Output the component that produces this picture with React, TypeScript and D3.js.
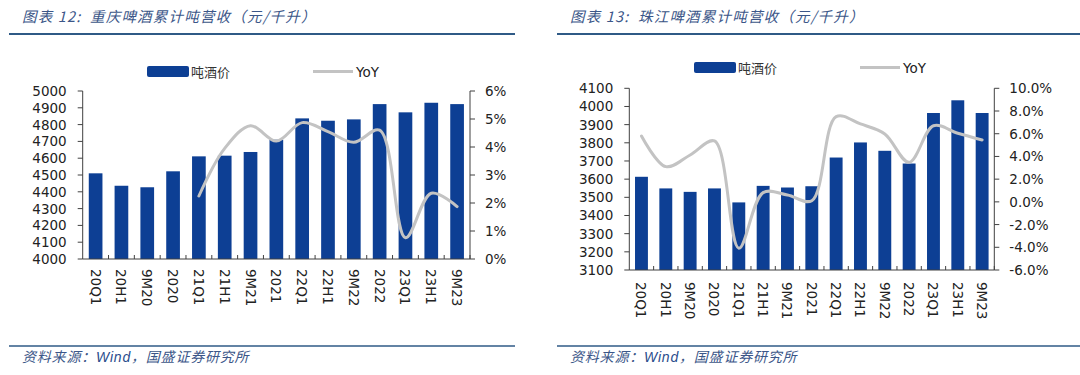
import React from "react";
import * as d3 from "d3";

const categories = ["20Q1","20H1","9M20","2020","21Q1","21H1","9M21","2021","22Q1","22H1","9M22","2022","23Q1","23H1","9M23"];

// Chart 12: Chongqing Beer
const cqPrice = [4510,4436,4427,4522,4611,4615,4637,4710,4837,4823,4831,4922,4873,4930,4922];
const cqYoY: (number|null)[] = [null,null,null,null,2.25,3.95,4.76,4.21,4.87,4.55,4.17,4.6,0.76,2.35,1.87];
const cqLeftTicks = [4000,4100,4200,4300,4400,4500,4600,4700,4800,4900,5000];
const cqRightTicks = [0,1,2,3,4,5,6];

// Chart 13: Zhujiang Beer
const zjPrice = [3613,3549,3530,3549,3472,3563,3554,3561,3719,3802,3756,3686,3964,4034,3964];
const zjYoY: (number|null)[] = [5.8,3.1,4.13,5.36,-4.08,0.81,0.6,0.1,7.5,6.86,5.98,3.48,6.7,6.04,5.45];
const zjLeftTicks = [3100,3200,3300,3400,3500,3600,3700,3800,3900,4000,4100];
const zjRightTicks = [-6,-4,-2,0,2,4,6,8,10];

const BAR = "#0d3f94";
const LINE = "#c3c3c3";
const AXIS = "#404040";
const TITLE_C = "#3b5688";
const RULE_C = "#2f5a86";
const FONT = "'DejaVu Sans', Verdana, sans-serif";
const CJK = "'Noto Sans CJK SC', sans-serif";

type PanelProps = {
  titleNo: string; title: string;
  x0: number; x1: number; yTop: number; yBot: number;
  price: number[]; yoy: (number|null)[];
  leftTicks: number[]; rightTicks: number[];
  rightFmt: (v: number) => string;
  legendRectX: number; legendY: number; legendLineX: number;
  titleX: number; ruleX0: number; ruleX1: number;
  labelOffset: number;
};

function Panel(p: PanelProps) {
  const x = d3.scaleBand<string>().domain(categories).range([p.x0, p.x1]).paddingInner(0.47).paddingOuter(0.235);
  const bandStep = (p.x1 - p.x0) / categories.length;
  const yL = d3.scaleLinear().domain([p.leftTicks[0], p.leftTicks[p.leftTicks.length - 1]]).range([p.yBot, p.yTop]);
  const yR = d3.scaleLinear().domain([p.rightTicks[0], p.rightTicks[p.rightTicks.length - 1]]).range([p.yBot, p.yTop]);
  const cx = (c: string) => (x(c) as number) + x.bandwidth() / 2;
  const pts = categories.map((c, i) => ({ c, v: p.yoy[i] })).filter(d => d.v !== null) as { c: string; v: number }[];
  const line = d3.line<{ c: string; v: number }>().x(d => cx(d.c)).y(d => yR(d.v)).curve(d3.curveCatmullRom.alpha(0.5));
  return (
    <g>
      <text x={p.titleX} y={22} fontFamily={CJK} fontStyle="italic" fontSize={14.5} letterSpacing={1.2} fill={TITLE_C}>{p.titleNo}</text>
      <text x={p.titleX + 68} y={22} fontFamily={CJK} fontStyle="italic" fontSize={14.5} letterSpacing={1.2} fill={TITLE_C}>{p.title}</text>
      <line x1={p.ruleX0} x2={p.ruleX1} y1={34} y2={34} stroke={RULE_C} strokeWidth={2} />
      <line x1={p.ruleX0} x2={p.ruleX1} y1={346} y2={346} stroke={RULE_C} strokeWidth={1.5} />
      <text x={p.titleX} y={362} fontFamily={CJK} fontStyle="italic" fontSize={14} letterSpacing={0.8} fill={TITLE_C}>
        资料来源：<tspan fill="#2a4c8c" fontFamily="'Liberation Sans', sans-serif">Wind</tspan>，国盛证券研究所
      </text>
      {/* legend */}
      <rect x={p.legendRectX} y={p.legendY - 5.5} width={42} height={11} rx={2} fill={BAR} />
      <text x={p.legendRectX + 44} y={p.legendY} dominantBaseline="central" fontFamily={CJK} fontSize={13} fill="#333">吨酒价</text>
      <line x1={p.legendLineX} x2={p.legendLineX + 40} y1={p.legendY} y2={p.legendY} stroke={LINE} strokeWidth={3} />
      <text x={p.legendLineX + 43} y={p.legendY} dominantBaseline="central" fontFamily={FONT} fontSize={13.5} fill="#222">YoY</text>
      {/* bars */}
      {categories.map((c, i) => (
        <rect key={c} x={x(c)} y={yL(p.price[i])} width={x.bandwidth()} height={p.yBot - yL(p.price[i])} fill={BAR} />
      ))}
      {/* line */}
      <path d={line(pts) || ""} fill="none" stroke={LINE} strokeWidth={3} strokeLinecap="round" />
      {/* axes */}
      <line x1={p.x0} x2={p.x0} y1={p.yTop} y2={p.yBot} stroke={AXIS} />
      <line x1={p.x1} x2={p.x1} y1={p.yTop} y2={p.yBot} stroke={AXIS} />
      <line x1={p.x0} x2={p.x1} y1={p.yBot} y2={p.yBot} stroke={AXIS} />
      {p.leftTicks.map(t => (
        <g key={"l" + t}>
          <line x1={p.x0 - 5} x2={p.x0} y1={yL(t)} y2={yL(t)} stroke={AXIS} />
          <text x={p.x0 - 16} y={yL(t)} textAnchor="end" dominantBaseline="central" fontFamily={FONT} fontSize={13.5} fill="#222">{t}</text>
        </g>
      ))}
      {p.rightTicks.map(t => (
        <g key={"r" + t}>
          <line x1={p.x1} x2={p.x1 + 5} y1={yR(t)} y2={yR(t)} stroke={AXIS} />
          <text x={p.x1 + 15} y={yR(t)} dominantBaseline="central" fontFamily={FONT} fontSize={13.5} fill="#222">{p.rightFmt(t)}</text>
        </g>
      ))}
      {categories.map((c, i) => (
        <line key={"t" + c} x1={p.x0 + bandStep * (i + 1)} x2={p.x0 + bandStep * (i + 1)} y1={p.yBot} y2={p.yBot - 4} stroke={AXIS} />
      ))}
      {categories.map(c => (
        <text key={"x" + c} transform={`translate(${cx(c)},${p.yBot + p.labelOffset}) rotate(90)`} dominantBaseline="central" fontFamily={FONT} fontSize={13.5} fill="#222">{c}</text>
      ))}
    </g>
  );
}

export default function App() {
  return (
    <svg width={1080} height={375} style={{ position: "absolute", left: 0, top: 0, background: "#fff" }}>
      <rect width={1080} height={375} fill="#fff" />
      <Panel
        titleNo="图表 12:" title="重庆啤酒累计吨营收（元/千升）"
        x0={82.7} x1={470} yTop={91} yBot={259}
        price={cqPrice} yoy={cqYoY}
        leftTicks={cqLeftTicks} rightTicks={cqRightTicks}
        rightFmt={v => `${v}%`}
        legendRectX={147} legendY={71.5} legendLineX={313}
        titleX={22} ruleX0={9} ruleX1={515} labelOffset={10}
      />
      <Panel
        titleNo="图表 13:" title="珠江啤酒累计吨营收（元/千升）"
        x0={629.3} x1={994.3} yTop={88.3} yBot={270}
        price={zjPrice} yoy={zjYoY}
        leftTicks={zjLeftTicks} rightTicks={zjRightTicks}
        rightFmt={v => `${v.toFixed(1)}%`}
        legendRectX={694} legendY={67.5} legendLineX={860}
        titleX={570} ruleX0={557} ruleX1={1080} labelOffset={12}
      />
    </svg>
  );
}
